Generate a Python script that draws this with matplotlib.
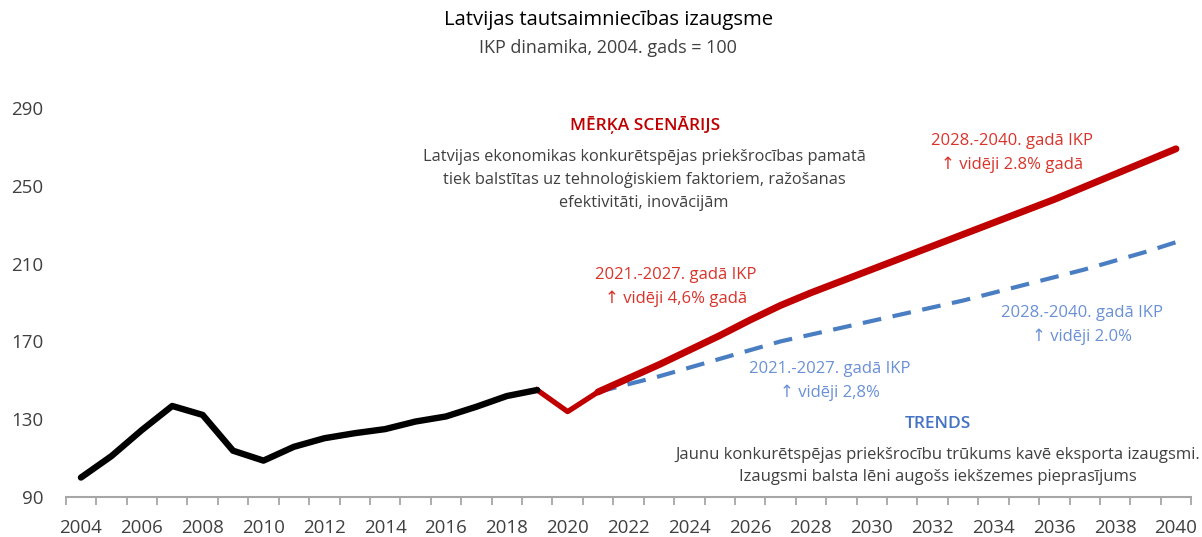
import numpy as np
import matplotlib
matplotlib.use('Agg')
import matplotlib.pyplot as plt

plt.rcParams['font.family'] = ['Open Sans', 'DejaVu Sans']

# IKP indekss, 2004 = 100
hist_years = list(range(2004, 2020))
hist_vals = [100, 111, 124.4, 136.8, 132.2, 113.8, 108.7, 115.8, 120.2,
             122.8, 124.9, 128.8, 131.4, 136.4, 141.9, 145]

bridge_years = [2019, 2020, 2021]
bridge_vals = [145, 133.9, 144]

fc_years = list(range(2021, 2041))
target_vals = [144, 151, 158, 165.5, 173, 181, 188.5, 195, 201, 207,
               213, 219, 225, 231, 237, 243, 249.5, 256, 262.5, 269]
trend_vals = [144, 148, 152, 156.5, 161, 165.5, 170, 173.5, 177, 180.5,
              184, 187.5, 191, 195, 199, 203, 207, 211.5, 216, 221]

year_labels = list(range(2004, 2041, 2))
y_ticks = [90, 130, 170, 210, 250, 290]

RED = '#C00000'
RED_TXT = '#D9342B'
BLUE = '#4A7EC2'
BLUE_TXT = '#6A90D6'
GREY_TXT = '#404040'

W, H = 1202, 537
fig = plt.figure(figsize=(W / 100, H / 100), dpi=100)
ax = fig.add_axes([0.0547, 0.0745, 0.9363, 0.7244])


def px_text(x, y, s, **kw):
    # place text by pixel position from the top-left corner
    kw.setdefault('ha', 'center')
    kw.setdefault('va', 'center')
    kw.setdefault('linespacing', 1.6)
    fig.text(x / W, 1 - y / H, s, **kw)


ax.plot(fc_years, trend_vals, color=BLUE, lw=3, ls=(0, (4.5, 2.8)),
        zorder=2)
ax.plot(fc_years, target_vals, color=RED, lw=5, solid_capstyle='round',
        zorder=3)
ax.plot(bridge_years, bridge_vals, color=RED, lw=3.8, zorder=3)
ax.plot(hist_years, hist_vals, color='black', lw=4.6, solid_capstyle='round',
        zorder=4)

ax.set_xlim(2003.5, 2040.5)
ax.set_ylim(90, 290)
ax.set_yticks(y_ticks)
ax.set_xticks(year_labels)
ax.set_xticks(np.arange(2003.5, 2041, 1), minor=True)
ax.tick_params(axis='x', which='major', length=0, pad=16, labelsize=13.5,
               labelcolor=GREY_TXT)
ax.tick_params(axis='x', which='minor', length=6, width=1.3, color='#A6A6A6')
ax.tick_params(axis='y', length=0, pad=16, labelsize=13.5, labelcolor=GREY_TXT)
for s in ['top', 'right', 'left']:
    ax.spines[s].set_visible(False)
ax.spines['bottom'].set_color('#A6A6A6')
ax.spines['bottom'].set_linewidth(1.5)

px_text(609, 20, 'Latvijas tautsaimniecības izaugsme', fontsize=14.6,
        color='black')
px_text(608, 48, 'IKP dinamika, 2004. gads = 100', fontsize=13,
        color=GREY_TXT)

px_text(645, 125, 'MĒRĶA SCENĀRIJS', fontsize=12.5, color=RED,
        fontweight='semibold')
px_text(644, 180, 'Latvijas ekonomikas konkurētspējas priekšrocības pamatā\n'
        'tiek balstītas uz tehnoloģiskiem faktoriem, ražošanas\n'
        'efektivitāti, inovācijām', fontsize=11.8, color=GREY_TXT,
        linespacing=1.55)
px_text(676, 287, '2021.-2027. gadā IKP\n↑ vidēji 4,6% gadā',
        fontsize=12, color=RED_TXT)
px_text(1012, 153, '2028.-2040. gadā IKP\n↑ vidēji 2.8% gadā',
        fontsize=12, color=RED_TXT)
px_text(1082, 325, '2028.-2040. gadā IKP\n↑ vidēji 2.0%',
        fontsize=12, color=BLUE_TXT)
px_text(830, 381, '2021.-2027. gadā IKP\n↑ vidēji 2,8%',
        fontsize=12, color=BLUE_TXT)
px_text(938, 424, 'TRENDS', fontsize=12.5, color='#4472C4',
        fontweight='semibold')
px_text(938, 466, 'Jaunu konkurētspējas priekšrocību trūkums kavē eksporta izaugsmi.\n'
        'Izaugsmi balsta lēni augošs iekšzemes pieprasījums', fontsize=12,
        color=GREY_TXT, linespacing=1.55)

fig.savefig('out.png', dpi=100)
